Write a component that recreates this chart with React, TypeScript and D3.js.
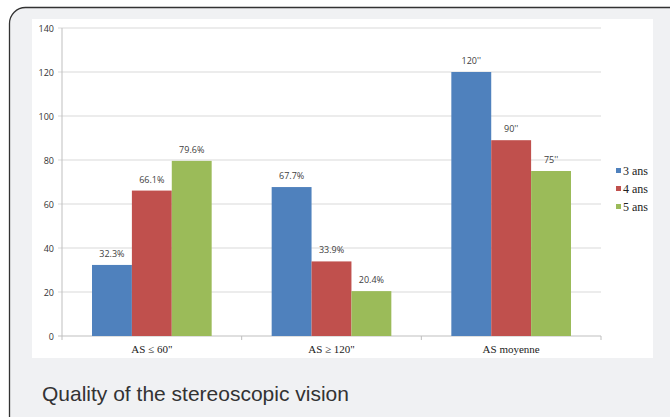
import React from "react";
import * as d3 from "d3";

const categories = ["AS ≤ 60\"", "AS ≥ 120\"", "AS moyenne"];
const seriesNames = ["3 ans", "4 ans", "5 ans"];
const values3 = [32.3, 67.7, 120];
const values4 = [66.1, 33.9, 89];
const values5 = [79.6, 20.4, 75];
const labels3 = ["32.3%", "67.7%", "120''"];
const labels4 = ["66.1%", "33.9%", "90''"];
const labels5 = ["79.6%", "20.4%", "75''"];
const yTicks = [0, 20, 40, 60, 80, 100, 120, 140];
const colors = ["#4f81bd", "#c0504d", "#9bbb59"];
const title = "Quality of the stereoscopic vision";

export default function App() {
  const W = 670, H = 417;
  const left = 62, right = 601, top = 28, bottom = 336;
  const x = d3.scaleBand<string>().domain(categories).range([left, right]).paddingInner(0).paddingOuter(0);
  const inner = d3.scaleBand<string>().domain(seriesNames).range([30, x.bandwidth() - 30]).padding(0);
  const y = d3.scaleLinear().domain([0, 140]).range([bottom, top]);
  const series = [values3, values4, values5];
  const labels = [labels3, labels4, labels5];
  const sans = "'Open Sans', 'Liberation Sans', Arial, sans-serif";
  const serif = "'Liberation Serif', 'Times New Roman', serif";
  return (
    <svg width={W} height={H} style={{ position: "absolute", left: 0, top: 0, display: "block" }}>
      <rect x={0} y={0} width={W} height={H} fill="#ffffff" />
      <rect x={9.5} y={7.5} width={720} height={440} rx={16} fill="#f0f1f3" stroke="#333" strokeWidth={1.3} />
      <rect x={32} y={19} width={621} height={339} fill="#ffffff" />
      {yTicks.map((t) => (
        <g key={t}>
          <line x1={left - 4} x2={right} y1={y(t)} y2={y(t)} stroke={t === 0 ? "#bfbfbf" : "#d9d9d9"} strokeWidth={1} />
          <text x={54} y={y(t) + 3.5} textAnchor="end" fontSize={9} fill="#333" fontFamily={sans}>{t}</text>
        </g>
      ))}
      <line x1={left} x2={left} y1={top} y2={bottom} stroke="#bfbfbf" strokeWidth={1} />
      {[...categories.map((c) => x(c)!), right].map((v, i) => (
        <line key={i} x1={v} x2={v} y1={bottom} y2={bottom + 4} stroke="#bfbfbf" />
      ))}
      {categories.map((c, ci) => (
        <g key={c}>
          {series.map((vals, si) => {
            const bx = x(c)! + inner(seriesNames[si])!;
            const bw = inner.bandwidth();
            return (
              <g key={si}>
                <rect x={bx} y={y(vals[ci])} width={bw} height={bottom - y(vals[ci])} fill={colors[si]} />
                <text x={bx + bw / 2} y={y(vals[ci]) - 8} textAnchor="middle" fontSize={9} fill="#404040" fontFamily={sans}>
                  {labels[si][ci]}
                </text>
              </g>
            );
          })}
          <text x={x(c)! + x.bandwidth() / 2} y={353} textAnchor="middle" fontSize={11} fill="#222" fontFamily={serif}>{c}</text>
        </g>
      ))}
      {seriesNames.map((s, i) => (
        <g key={s}>
          <rect x={616} y={168 + i * 18} width={5} height={5} fill={colors[i]} />
          <text x={623} y={174.5 + i * 18} fontSize={12} fill="#222" fontFamily={serif}>{s}</text>
        </g>
      ))}
      <text x={42} y={401} fontSize={21} fill="#333" fontFamily="'Liberation Sans', Arial, sans-serif">{title}</text>
    </svg>
  );
}
